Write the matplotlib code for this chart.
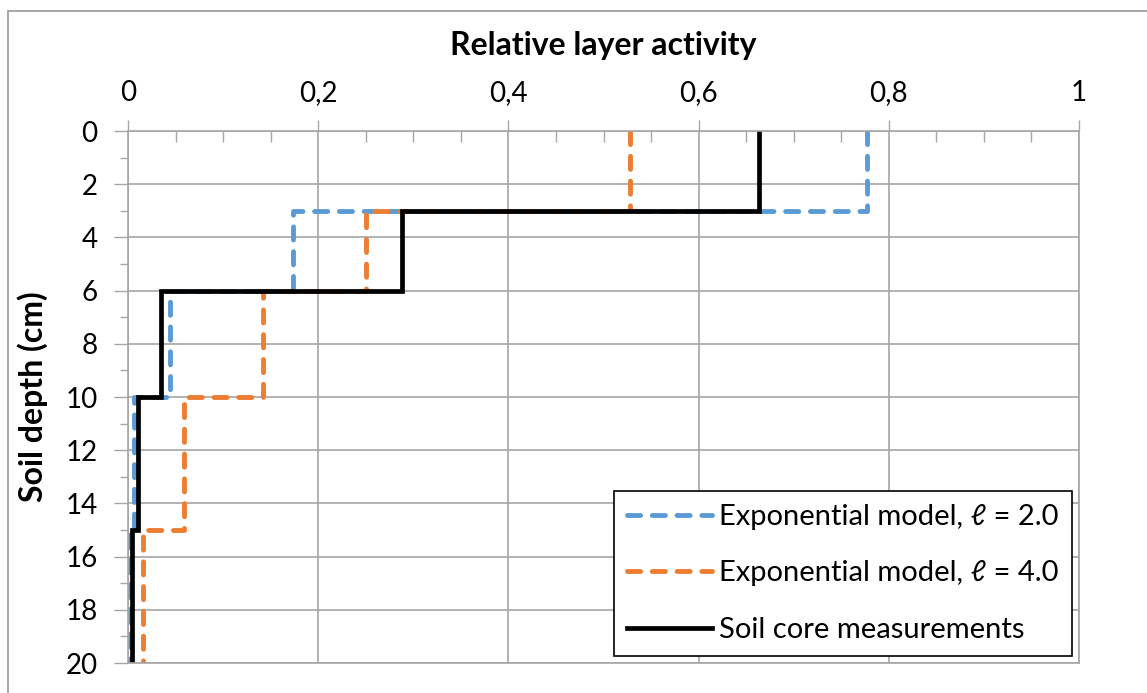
import numpy as np
import matplotlib.pyplot as plt
from matplotlib.patches import Rectangle
from matplotlib.ticker import MultipleLocator, FuncFormatter

# layer boundaries (cm) and relative activity per layer
depth_edges = [0, 3, 6, 10, 15, 20]
exp_l2 = [0.777, 0.174, 0.044, 0.006, 0.002]
exp_l4 = [0.528, 0.250, 0.142, 0.059, 0.016]
measured = [0.663, 0.288, 0.035, 0.011, 0.004]

labels = ["Exponential model, \u2113 = 2.0",
          "Exponential model, \u2113 = 4.0",
          "Soil core measurements"]

BLUE = "#5B9BD5"
ORANGE = "#ED7D31"
GRID = "#A6A6A6"

plt.rcParams["font.family"] = ["Lato", "DejaVu Sans"]


def step_profile(values):
    # each layer is a vertical segment at its activity value
    y = np.repeat(depth_edges, 2)[1:-1]
    x = np.repeat(values, 2)
    return x, y


fig = plt.figure(figsize=(11.47, 6.93), dpi=100)
ax = fig.add_axes([128 / 1147, 1 - 663 / 693, 951 / 1147, 532 / 693])

# chart area outline (only left and top edges are inside the image)
fig.patches.append(Rectangle((8 / 1147, -0.1), 1.2, 1 - 11 / 693 + 0.1,
                             transform=fig.transFigure, fill=False,
                             edgecolor="#A0A0A0", linewidth=1.3))

dash = dict(linestyle=(0, (2.7, 2.4)), linewidth=3.5, dash_capstyle="round")
x, y = step_profile(exp_l2)
ax.plot(x, y, color=BLUE, label=labels[0], **dash)
x, y = step_profile(exp_l4)
ax.plot(x, y, color=ORANGE, label=labels[1], **dash)
x, y = step_profile(measured)
ax.plot(x, y, color="black", linewidth=3.4, label=labels[2],
        solid_joinstyle="miter")

ax.set_xlim(0, 1)
ax.set_ylim(20, 0)
ax.xaxis.tick_top()
ax.xaxis.set_label_position("top")
ax.xaxis.set_major_locator(MultipleLocator(0.2))
ax.xaxis.set_minor_locator(MultipleLocator(0.05))
ax.yaxis.set_major_locator(MultipleLocator(2))
ax.yaxis.set_minor_locator(MultipleLocator(1))
ax.xaxis.set_major_formatter(FuncFormatter(lambda v, p: f"{v:g}".replace(".", ",")))

ax.tick_params(axis="x", which="major", direction="out", length=8, width=1,
               color=GRID, labelsize=20, pad=10)
ax.tick_params(axis="x", which="minor", direction="in", length=8, width=1,
               color=GRID)
ax.tick_params(axis="y", which="major", direction="out", length=10, width=1,
               color=GRID, labelsize=20, pad=12)
ax.tick_params(axis="y", which="minor", direction="out", length=6, width=1,
               color=GRID)

ax.grid(which="major", color=GRID, linewidth=1.2)
for side in ax.spines.values():
    side.set_color(GRID)
    side.set_linewidth(1.2)

ax.set_xlabel("Relative layer activity", fontsize=23, fontweight="bold")
ax.xaxis.set_label_coords(0.5, 1.142)
ax.set_ylabel("Soil depth (cm)", fontsize=23, fontweight="bold")
ax.yaxis.set_label_coords(-0.084, 0.5)

leg = ax.legend(loc="lower right", bbox_to_anchor=(0.9925, 0.013),
                fontsize=21, frameon=True, fancybox=False, handlelength=2.9,
                handletextpad=0.25, labelspacing=1.05, borderpad=0.45,
                borderaxespad=0)
leg.get_frame().set_edgecolor("black")
leg.get_frame().set_linewidth(1.2)
leg.get_frame().set_alpha(1)

fig.savefig("out.png", dpi=100)
